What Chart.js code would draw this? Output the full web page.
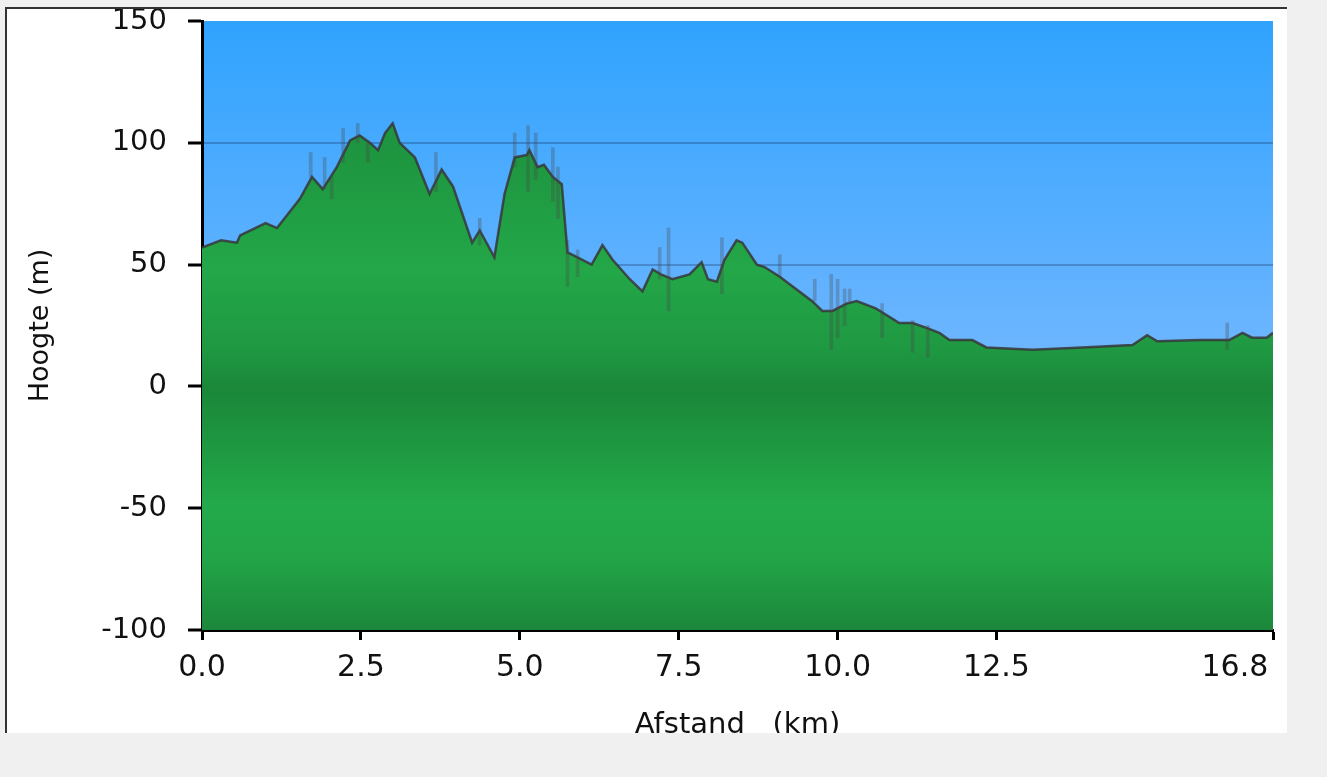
<!DOCTYPE html>
<html>
<head>
<meta charset="utf-8">
<script src="https://cdn.jsdelivr.net/npm/chart.js@4.4.1/dist/chart.umd.min.js"></script>
<style>
  body { margin: 0; background: #f0f0f0; width: 1327px; height: 777px; overflow: hidden; }
  #paneel { position: absolute; left: 5px; top: 7px; width: 1280px; height: 724px;
            background: #fff; border-left: 2px solid #333; border-top: 2px solid #333; }
  #profiel { display: block; }
</style>
</head>
<body>
<div id="paneel"><canvas id="profiel" width="1280" height="724"></canvas></div>
<script>
// hoogteprofiel (km, m)
const afstand = [0.0, 0.1, 0.3, 0.55, 0.6, 1.0, 1.18, 1.54, 1.73, 1.9, 2.12, 2.33, 2.48, 2.64, 2.77, 2.88, 3.0,
  3.11, 3.35, 3.58, 3.77, 3.95, 4.25, 4.37, 4.6, 4.76, 4.92, 5.11, 5.15, 5.28, 5.38, 5.52, 5.66,
  5.75, 5.83, 6.13, 6.3, 6.46, 6.73, 6.93, 7.09, 7.22, 7.4, 7.67, 7.86, 7.96, 8.1, 8.22, 8.41,
  8.5, 8.73, 8.85, 9.09, 9.6, 9.76, 9.92, 10.14, 10.3, 10.6, 10.97, 11.18, 11.4, 11.6, 11.76,
  12.12, 12.34, 13.07, 13.85, 14.64, 14.87, 15.03, 15.7, 16.16, 16.37, 16.52, 16.75, 16.85];
const hoogte = [57, 58, 60, 59, 62, 67, 65, 77, 86, 81, 90, 101, 103, 100, 97, 104, 108,
  100, 94, 79, 89, 82, 59, 64, 53, 79, 94, 95, 97, 90, 91, 86, 83,
  55, 54, 50, 58, 52, 44, 39, 48, 46, 44, 46, 51, 44, 43, 52, 60,
  59, 50, 49, 45, 35, 31, 31, 34, 35, 32, 26, 26, 24, 22, 19,
  19, 16, 15, 16, 17, 21, 18.5, 19, 19, 22, 20, 20, 22];

// meetpieken (km, laag, hoog)
const piekKm = [1.71, 1.93, 2.04, 2.22, 2.45, 2.61, 3.68, 4.37, 4.92, 5.13, 5.25, 5.52, 5.6, 5.75, 5.91,
  7.2, 7.34, 8.18, 9.09, 9.64, 9.9, 10.0, 10.11, 10.19, 10.7, 11.18, 11.42, 16.13];
const piekLaag = [86, 81, 77, 92, 100, 92, 80, 58, 90, 80, 85, 76, 69, 41, 45,
  44, 31, 38, 45, 35, 15, 20, 25, 34, 20, 14, 12, 15];
const piekHoog = [96, 94, 86, 106, 108, 101, 96, 69, 104, 107, 104, 98, 90, 60, 56,
  57, 65, 61, 54, 44, 46, 44, 40, 40, 34, 27, 25, 26];

const xTicks = [0, 2.5, 5, 7.5, 10, 12.5, 16.85];
const xTickLabels = ['0.0', '2.5', '5.0', '7.5', '10.0', '12.5', '16.8'];

const font = 'DejaVu Sans, Verdana, sans-serif';

const lucht = {
  id: 'lucht',
  beforeDraw(chart) {
    const a = chart.chartArea;
    const ctx = chart.ctx;
    const g = ctx.createLinearGradient(0, a.top, 0, a.bottom);
    g.addColorStop(0, '#30a3fe');
    g.addColorStop(0.53, '#6cb5ff');
    g.addColorStop(1, '#90c8ff');
    ctx.save();
    ctx.fillStyle = g;
    ctx.fillRect(a.left, a.top, a.right - a.left, a.bottom - a.top);
    ctx.restore();
  }
};

const groen = (context) => {
  const a = context.chart.chartArea;
  if (!a) return '#20a044';
  const g = context.chart.ctx.createLinearGradient(0, a.top, 0, a.bottom);
  g.addColorStop(0, '#1e9340');
  g.addColorStop(0.21, '#1e9540');
  g.addColorStop(0.41, '#23a748');
  g.addColorStop(0.54, '#1f9842');
  g.addColorStop(0.605, '#1a8739');
  g.addColorStop(0.795, '#23aa4a');
  g.addColorStop(0.885, '#22a447');
  g.addColorStop(1, '#1c873b');
  return g;
};

new Chart(document.getElementById('profiel'), {
  type: 'line',
  data: {
    datasets: [{
      label: 'Pieken',
      type: 'bar',
      data: piekKm.map((k, i) => ({ x: k, y: [piekLaag[i], piekHoog[i]] })),
      backgroundColor: 'rgba(70,70,70,0.3)',
      barThickness: 3,
      grouped: false,
      order: 0
    }, {
      label: 'Hoogte',
      data: afstand.map((k, i) => ({ x: k, y: hoogte[i] })),
      borderColor: 'rgba(55,55,55,0.85)',
      borderWidth: 2.5,
      pointRadius: 0,
      tension: 0,
      fill: 'start',
      backgroundColor: groen,
      order: 1
    }]
  },
  options: {
    responsive: false,
    animation: false,
    layout: { padding: { top: 12, right: 14, left: 0, bottom: 0 } },
    plugins: { legend: { display: false }, tooltip: { enabled: false } },
    scales: {
      x: {
        type: 'linear',
        min: 0,
        max: 16.85,
        offset: false,
        afterBuildTicks: (scale) => { scale.ticks = xTicks.map(v => ({ value: v })); },
        afterFit: (scale) => {
          scale.height = 103;
          scale.paddingLeft = 0; scale.paddingRight = 0;
        },
        grid: { offset: false, drawOnChartArea: false, drawTicks: true, tickLength: 10, tickColor: '#000', tickWidth: 3 },
        border: { color: '#000', width: 3 },
        ticks: {
          autoSkip: false, maxRotation: 0, padding: 10, color: '#111',
          font: { family: font, size: 30 },
          // laatste label schuift naar links, net als in het origineel
          callback: (v, i) => i === xTickLabels.length - 1 ? xTickLabels[i] + '        ' : xTickLabels[i]
        },
        title: {
          display: true, text: 'Afstand   (km)', color: '#111',
          font: { family: font, size: 29, lineHeight: 0.5 }, padding: 0
        }
      },
      y: {
        min: -100,
        max: 150,
        z: 1,
        afterFit: (scale) => {
          scale.width = 195;
          scale.paddingTop = 0; scale.paddingBottom = 0;
        },
        grid: {
          color: (c) => (c.tick && (c.tick.value === 150 || c.tick.value === -100)) ? 'rgba(0,0,0,0)' : 'rgba(0,0,30,0.22)',
          lineWidth: 2,
          drawTicks: true, tickLength: 14, tickColor: '#000', tickWidth: 3
        },
        border: { color: '#000', width: 3 },
        ticks: {
          stepSize: 50, padding: 21, color: '#111',
          font: { family: font, size: 29 }
        },
        title: {
          display: true, text: 'Hoogte (m)', color: '#111',
          font: { family: font, size: 27 }, padding: { top: 18, bottom: 0 }
        }
      }
    }
  },
  plugins: [lucht]
});
</script>
</body>
</html>
